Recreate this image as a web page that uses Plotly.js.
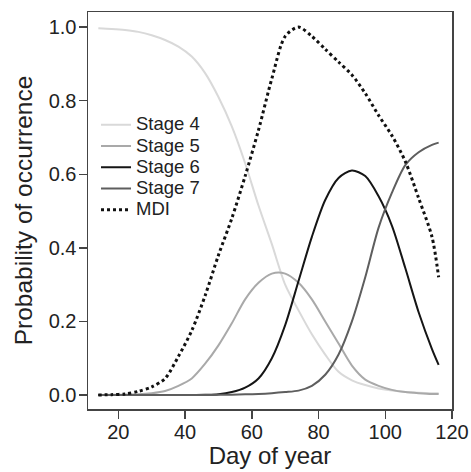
<!DOCTYPE html>
<html>
<head>
<meta charset="utf-8">
<script src="https://cdn.plot.ly/plotly-3.0.1.min.js"></script>
<style>html,body{margin:0;padding:0;background:#fff;}#chart{width:471px;height:472px;}</style>
</head>
<body>
<div id="chart"></div>
<script>
const days = [14,18,22,26,30,34,38,42,46,50,54,58,62,66,70,74,78,82,86,90,94,98,102,106,110,114,116];
const stage4 = [0.997,0.995,0.992,0.987,0.978,0.965,0.947,0.92,0.875,0.81,0.73,0.63,0.515,0.41,0.30,0.23,0.165,0.11,0.063,0.04,0.027,0.018,0.012,0.008,0.006,0.005,0.005];
const stage5 = [0.0,0.0005,0.001,0.002,0.005,0.011,0.025,0.045,0.085,0.135,0.195,0.26,0.305,0.33,0.33,0.305,0.26,0.2,0.14,0.08,0.042,0.025,0.014,0.008,0.005,0.003,0.003];
const stage6 = [0,0,0,0,0,0,0,0,0.0005,0.002,0.008,0.02,0.045,0.1,0.19,0.31,0.43,0.53,0.59,0.61,0.595,0.54,0.46,0.345,0.225,0.125,0.082];
const stage7 = [0,0,0,0,0,0,0,0,0,0.0005,0.001,0.002,0.003,0.005,0.008,0.012,0.025,0.055,0.11,0.2,0.32,0.455,0.55,0.625,0.66,0.68,0.686];
const mdi = [0.0,0.001,0.003,0.01,0.022,0.045,0.105,0.175,0.27,0.38,0.48,0.595,0.72,0.86,0.975,1.0,0.975,0.94,0.905,0.87,0.82,0.76,0.705,0.635,0.535,0.43,0.32];
const seriesNames = ['Stage 4','Stage 5','Stage 6','Stage 7','MDI'];
const xTicks = [20,40,60,80,100,120];
const yTicks = [0,0.2,0.4,0.6,0.8,1.0];
const yTickLabels = ['0.0','0.2','0.4','0.6','0.8','1.0'];

const series = [stage4, stage5, stage6, stage7, mdi];
const colors = ['#d9d9d9','#a9a9a9','#151515','#5e5e5e','#111111'];
const traces = series.map((ys, i) => ({
  x: days, y: ys, name: '<span style="font-size:18.5px">' + seriesNames[i] + '</span>', type: 'scatter', mode: 'lines',
  line: {color: colors[i], width: i === 4 ? 3 : 2, shape: 'spline', smoothing: 0.8, dash: i === 4 ? '3px,3px' : 'solid'}
}));

const ff = '"Liberation Sans", Arial, sans-serif';
const layout = {
  width: 471, height: 472,
  margin: {l: 88, r: 19, t: 12, b: 63},
  paper_bgcolor: '#fff', plot_bgcolor: '#fff',
  font: {family: ff, color: '#222'},
  showlegend: true,
  legend: {x: 0.022, y: 0.755, xanchor: 'left', yanchor: 'top', bgcolor: 'rgba(0,0,0,0)', font: {size: 14, family: ff, color: '#222'}, tracegroupgap: 0, itemwidth: 30},
  xaxis: {
    range: [10.9, 120], tickvals: xTicks, ticks: 'outside', ticklen: 8, tickwidth: 1.5, tickcolor: '#444',
    showline: true, linecolor: '#444', linewidth: 1.5, mirror: true, showgrid: false, zeroline: false,
    tickfont: {size: 20, family: ff, color: '#222'}, ticklabelstandoff: -4,
    title: {text: 'Day of year', font: {size: 24, family: ff, color: '#222'}, standoff: 3}
  },
  yaxis: {
    range: [-0.038, 1.041], tickvals: yTicks, ticktext: yTickLabels, ticks: 'outside', ticklen: 8, tickwidth: 1.5, tickcolor: '#444',
    showline: true, linecolor: '#444', linewidth: 1.5, mirror: true, showgrid: false, zeroline: false,
    tickfont: {size: 20, family: ff, color: '#222'}, ticklabelstandoff: -2,
    title: {text: 'Probability of occurrence', font: {size: 24.5, family: ff, color: '#222'}, standoff: 9}
  }
};
Plotly.newPlot('chart', traces, layout, {displayModeBar: false, staticPlot: true});
</script>
</body>
</html>
